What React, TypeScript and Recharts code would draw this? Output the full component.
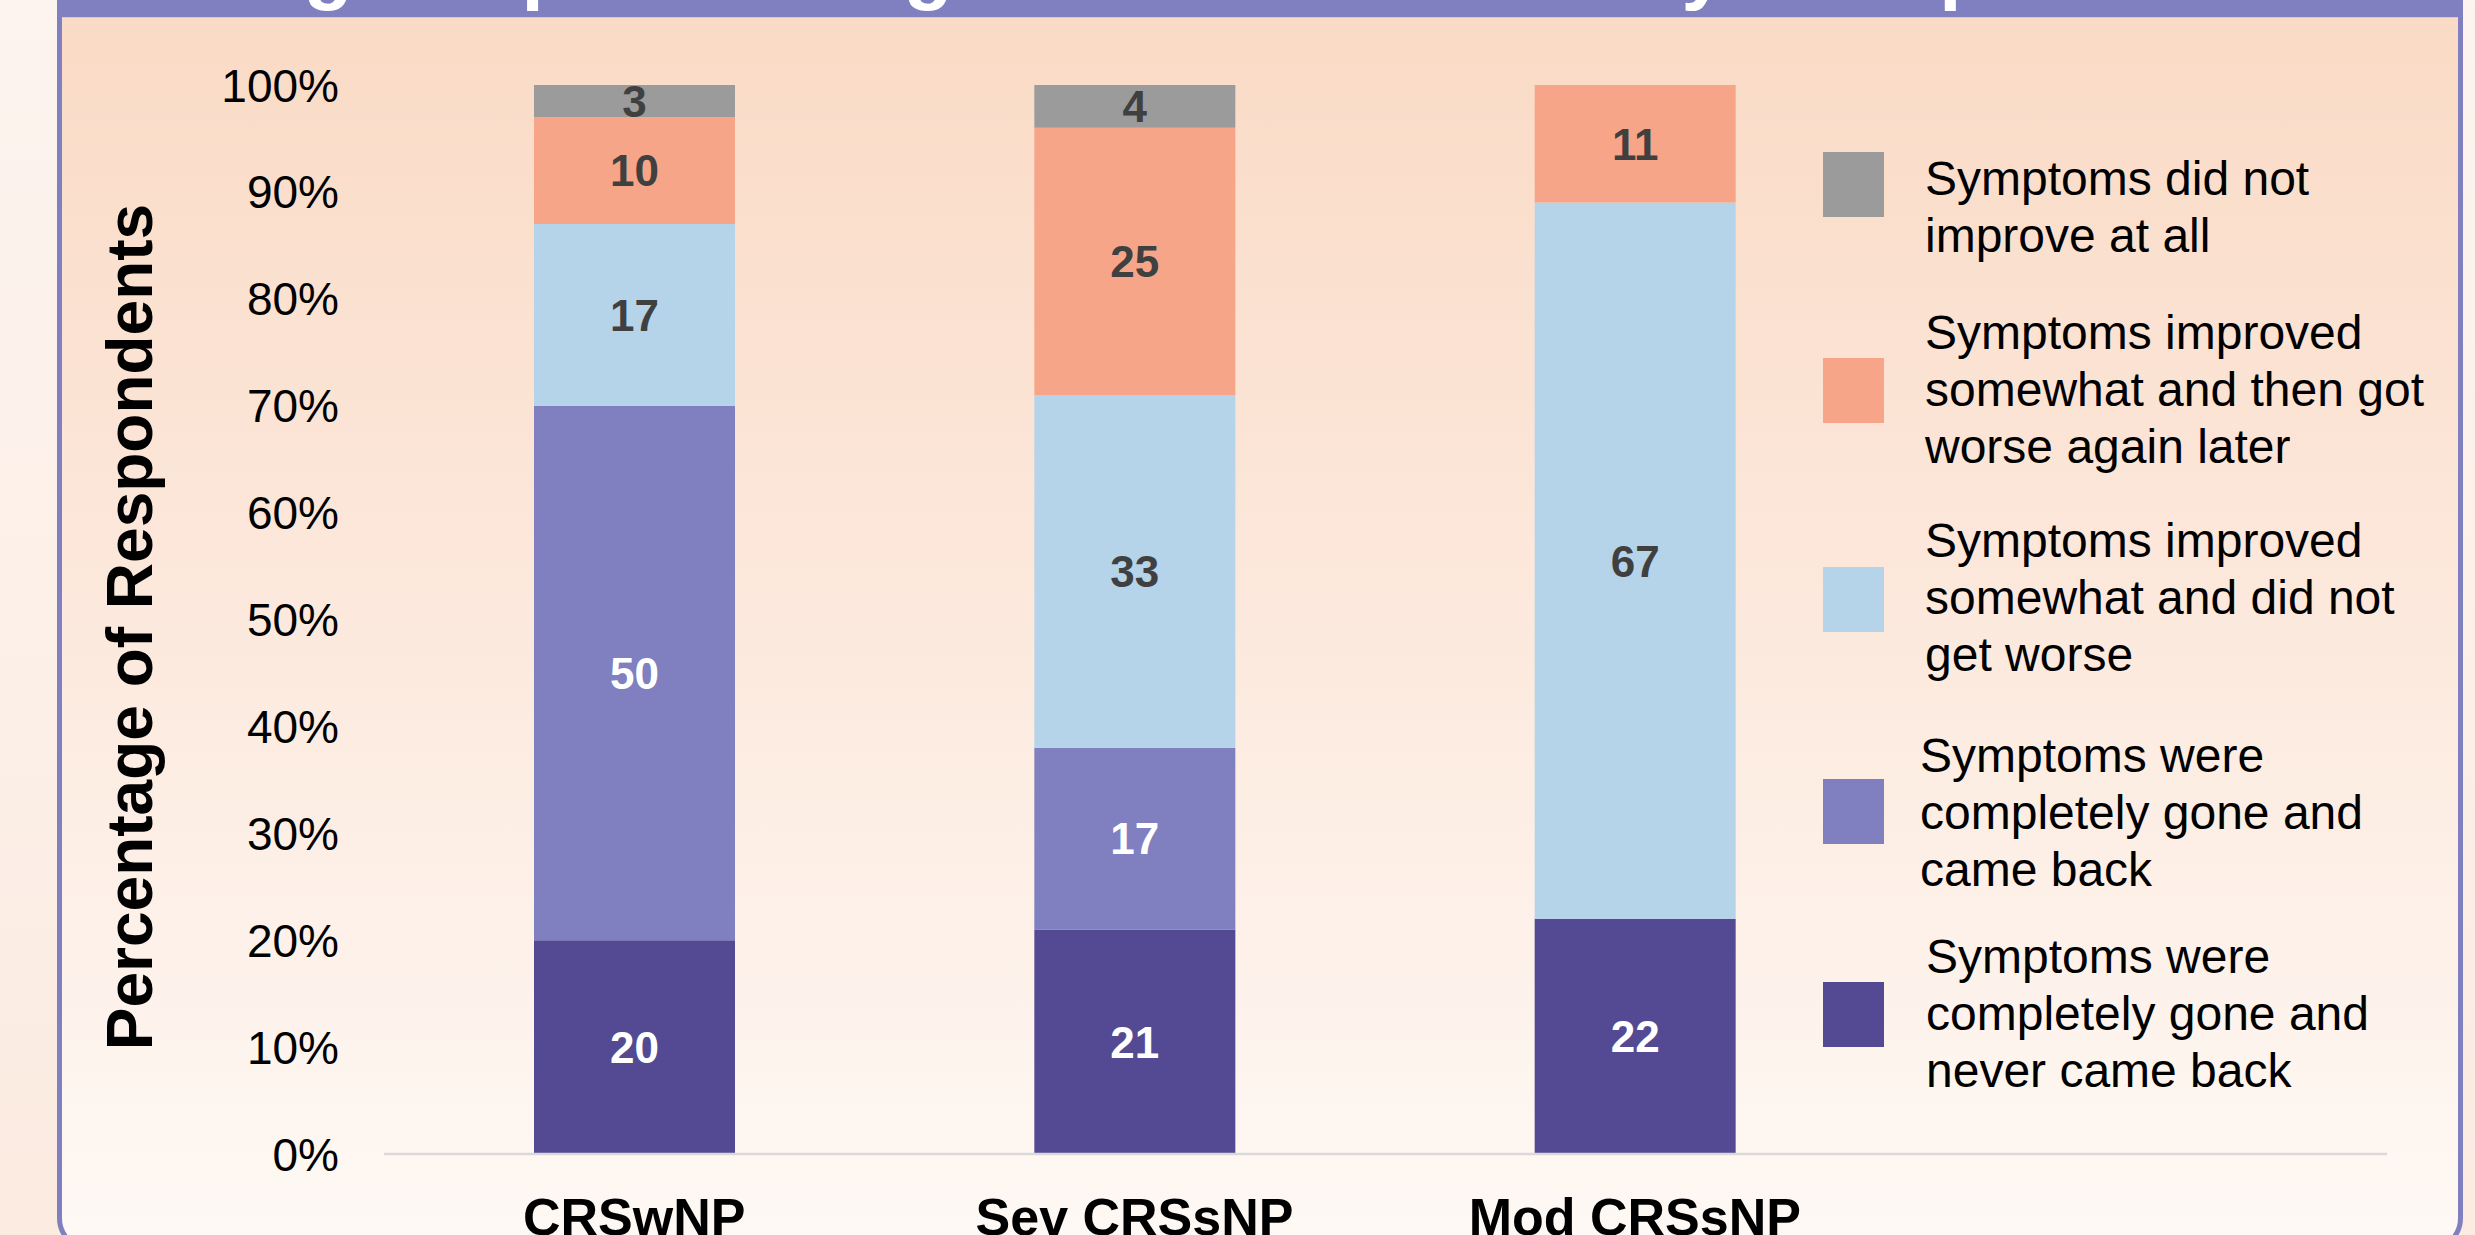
import React from 'react';
import { BarChart, Bar, XAxis, YAxis, Legend, LabelList } from 'recharts';

const FONT = '"Liberation Sans", Arial, Helvetica, sans-serif';

// ---- data ----
const categories = ['CRSwNP', 'Sev CRSsNP', 'Mod CRSsNP'];
const goneNeverCameBack = [20, 21, 22];
const goneCameBack = [50, 17, 0];
const improvedNotWorse = [17, 33, 67];
const improvedThenWorse = [10, 25, 11];
const didNotImprove = [3, 4, 0];
const yTicks = [0, 10, 20, 30, 40, 50, 60, 70, 80, 90, 100];

const seriesKeys = ['neverBack', 'cameBack', 'notWorse', 'thenWorse', 'notImproved'];
const seriesNames = [
  'Symptoms were\ncompletely gone and\nnever came back',
  'Symptoms were\ncompletely gone and\ncame back',
  'Symptoms improved\nsomewhat and did not\nget worse',
  'Symptoms improved\nsomewhat and then got\nworse again later',
  'Symptoms did not\nimprove at all',
];
const seriesValues = [goneNeverCameBack, goneCameBack, improvedNotWorse, improvedThenWorse, didNotImprove];
const seriesColors = ['#534a93', '#8080c0', '#b5d4e9', '#f7a588', '#9b9b9b'];
const labelColors = ['#ffffff', '#ffffff', '#404040', '#404040', '#404040'];

const TITLE = 'Among Respondents given OCS: Durability of Improvement in Symptoms';

const data = categories.map((c, i) => {
  const row: any = { name: c };
  seriesKeys.forEach((k, s) => {
    row[k] = seriesValues[s][i];
  });
  return row;
});

// legend layout (top of square, text x, first baseline), top item first
const legendLayout = [
  { sq: 152, tx: 1925, base: 195 },
  { sq: 358, tx: 1925, base: 349 },
  { sq: 567, tx: 1925, base: 557 },
  { sq: 779, tx: 1920, base: 772 },
  { sq: 982, tx: 1926, base: 973 },
];

const makeLabel = (color: string) => (props: any) => {
  const { x, y, width, height, value } = props;
  if (!value) return null;
  return (
    <text
      x={Number(x) + Number(width) / 2}
      y={Number(y) + Number(height) / 2}
      dy="0.36em"
      textAnchor="middle"
      fill={color}
      fontSize={44}
      fontWeight="bold"
      fontFamily={FONT}
    >
      {value}
    </text>
  );
};

const XTick = (props: any) => {
  const { x, y, payload } = props;
  return (
    <text x={x} y={Number(y) + 81} textAnchor="middle" fontSize={52} fontWeight="bold" fill="#000" fontFamily={FONT}>
      {payload.value}
    </text>
  );
};

const YTick = (props: any) => {
  const { x, y, payload } = props;
  return (
    <text x={x} y={y} dy="0.36em" textAnchor="end" fontSize={46} fill="#000" fontFamily={FONT}>
      {payload.value}%
    </text>
  );
};

const LegendContent = (props: any) => {
  const payload = props.payload || [];
  const ordered = [...seriesKeys].reverse().map((k) => payload.find((p: any) => p.dataKey === k)).filter(Boolean);
  return (
    <svg width={2475} height={1235} style={{ position: 'absolute', left: 0, top: 0, overflow: 'visible' }}>
      {ordered.map((item: any, i: number) => {
        const lay = legendLayout[i];
        const lines = String(item.value).split('\n');
        return (
          <g key={item.dataKey}>
            <rect x={1823} y={lay.sq} width={61} height={65} fill={item.color} />
            <text x={lay.tx} y={lay.base} fontSize={48} fill="#000" fontFamily={FONT}>
              {lines.map((ln, j) => (
                <tspan key={j} x={lay.tx} y={lay.base + j * 57}>
                  {ln}
                </tspan>
              ))}
            </text>
          </g>
        );
      })}
    </svg>
  );
};

export default function App() {
  return (
    <div
      style={{
        position: 'absolute',
        left: 0,
        top: 0,
        width: 2475,
        height: 1235,
        overflow: 'hidden',
        background: 'linear-gradient(to bottom, #fdf4ef, #fbebe1)',
        fontFamily: FONT,
      }}
    >
      {/* framed panel */}
      <div
        style={{
          position: 'absolute',
          left: 57,
          top: -40,
          width: 2406,
          height: 1292,
          boxSizing: 'border-box',
          border: '5px solid #8080c0',
          borderRadius: 34,
          background: 'linear-gradient(to bottom, #f9d9c3 0%, #fce7da 45%, #fef9f5 100%)',
        }}
      />
      {/* title band (title text cut off by the top edge) */}
      <svg width={2406} height={18} style={{ position: 'absolute', left: 57, top: 0 }}>
        <rect x={0} y={0} width={2406} height={17} fill="#8080c0" />
        <rect x={5} y={17} width={2396} height={1} fill="#e4c4cc" />
        <text x={20} y={-6} fontSize={80} fontWeight="bold" fill="#ffffff" fontFamily={FONT}>
          {TITLE}
        </text>
      </svg>
      <div style={{ position: 'absolute', left: 0, top: 0 }}>
        <BarChart
          width={2475}
          height={1235}
          data={data}
          margin={{ top: 85, right: 88, bottom: 0, left: 84 }}
          barSize={201}
          style={{ fontFamily: FONT }}
        >
          <XAxis
            dataKey="name"
            height={81}
            tickLine={false}
            tickSize={0}
            tickMargin={0}
            axisLine={{ stroke: '#d9d9d9', strokeWidth: 2.5 }}
            padding={{ left: 0, right: 502 }}
            tick={<XTick />}
            interval={0}
          />
          <YAxis
            width={300}
            domain={[0, 100]}
            ticks={yTicks}
            allowDataOverflow
            axisLine={false}
            tickLine={false}
            tickSize={0}
            tickMargin={45}
            tick={<YTick />}
            label={{
              content: () => (
                <text
                  transform="translate(152, 627) rotate(-90)"
                  textAnchor="middle"
                  fontSize={64}
                  fontWeight="bold"
                  fill="#000"
                  fontFamily={FONT}
                >
                  Percentage of Respondents
                </text>
              ),
            }}
          />
          <Legend
            layout="vertical"
            align="center"
            verticalAlign="middle"
            content={<LegendContent />}
            wrapperStyle={{ left: 0, top: 0, width: 2475, height: 1235, pointerEvents: 'none' }}
          />
          {seriesKeys.map((k, s) => (
            <Bar key={k} dataKey={k} name={seriesNames[s]} stackId="a" fill={seriesColors[s]} isAnimationActive={false}>
              <LabelList dataKey={k} content={makeLabel(labelColors[s])} />
            </Bar>
          ))}
        </BarChart>
      </div>
    </div>
  );
}
